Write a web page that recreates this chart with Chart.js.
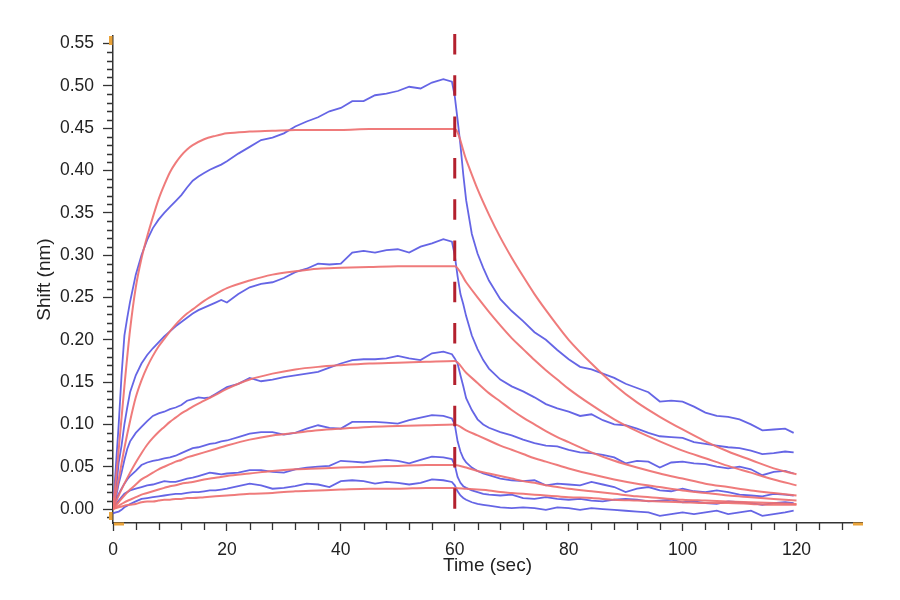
<!DOCTYPE html>
<html><head><meta charset="utf-8">
<script src="https://cdn.jsdelivr.net/npm/chart.js@4.4.0/dist/chart.umd.min.js"></script>
<style>html,body{margin:0;padding:0;background:#fff;}#wrap{width:900px;height:600px;position:relative;}</style>
</head><body><div id="wrap"><canvas id="c"></canvas></div>
<script>
// ---- data ----
const blueTime = [0,0.5,1,1.5,2,2.5,3,4,5,6,7,8,9,10,11,12,13,14,15,16,17,18,19,20,22,24,26,28,30,32,34,36,38,40,42,44,46,48,50,52,54,56,58,59.5,60,60.5,61,61.5,62,63,64,65,66,68,70,72,74,76,78,80,82,84,86,88,90,92,94,96,98,100,102,104,106,108,110,112,114,116,118,119.5];

const measured1 = [0,0.05,0.10,0.158,0.205,0.226,0.245,0.277,0.300,0.318,0.332,0.342,0.350,0.357,0.364,0.371,0.380,0.388,0.393,0.397,0.401,0.404,0.407,0.411,0.420,0.428,0.436,0.439,0.444,0.452,0.458,0.463,0.470,0.474,0.482,0.482,0.489,0.491,0.494,0.499,0.497,0.504,0.508,0.505,0.488,0.460,0.430,0.395,0.365,0.325,0.302,0.285,0.270,0.248,0.234,0.222,0.209,0.200,0.188,0.177,0.168,0.165,0.160,0.155,0.148,0.143,0.138,0.127,0.128,0.127,0.121,0.114,0.110,0.109,0.106,0.100,0.093,0.094,0.095,0.090];
const measured2 = [0,0.020,0.055,0.075,0.100,0.120,0.138,0.158,0.172,0.182,0.190,0.197,0.204,0.210,0.216,0.221,0.226,0.231,0.235,0.238,0.241,0.244,0.247,0.244,0.254,0.262,0.266,0.268,0.273,0.280,0.284,0.290,0.289,0.290,0.303,0.305,0.303,0.306,0.307,0.303,0.310,0.314,0.319,0.316,0.300,0.275,0.254,0.242,0.228,0.205,0.189,0.176,0.166,0.153,0.145,0.139,0.132,0.124,0.119,0.115,0.110,0.112,0.105,0.100,0.099,0.095,0.090,0.086,0.085,0.084,0.079,0.077,0.075,0.073,0.072,0.069,0.065,0.066,0.068,0.067];
const measured3 = [0,0.013,0.030,0.043,0.058,0.071,0.080,0.090,0.097,0.104,0.110,0.113,0.115,0.118,0.120,0.123,0.128,0.130,0.132,0.131,0.132,0.136,0.140,0.144,0.148,0.155,0.151,0.153,0.156,0.158,0.160,0.162,0.167,0.172,0.176,0.177,0.177,0.178,0.181,0.178,0.176,0.184,0.186,0.183,0.178,0.172,0.158,0.145,0.131,0.117,0.106,0.100,0.096,0.091,0.087,0.082,0.078,0.075,0.074,0.070,0.067,0.066,0.064,0.061,0.054,0.057,0.056,0.049,0.055,0.056,0.054,0.053,0.050,0.048,0.050,0.047,0.040,0.044,0.045,0.042];
const measured4 = [0,0.010,0.018,0.024,0.030,0.035,0.039,0.045,0.052,0.055,0.057,0.058,0.060,0.061,0.063,0.066,0.069,0.072,0.073,0.075,0.077,0.078,0.080,0.081,0.085,0.089,0.091,0.091,0.088,0.090,0.095,0.099,0.096,0.095,0.103,0.103,0.103,0.102,0.101,0.105,0.108,0.111,0.110,0.107,0.100,0.080,0.068,0.060,0.055,0.049,0.045,0.042,0.040,0.036,0.034,0.033,0.034,0.028,0.030,0.029,0.028,0.032,0.029,0.026,0.020,0.024,0.026,0.022,0.021,0.024,0.021,0.020,0.022,0.020,0.017,0.016,0.015,0.018,0.017,0.016];
const measured5 = [0,0.006,0.010,0.014,0.018,0.020,0.022,0.024,0.026,0.028,0.029,0.031,0.033,0.032,0.032,0.034,0.036,0.037,0.039,0.041,0.043,0.042,0.041,0.042,0.043,0.046,0.046,0.044,0.043,0.047,0.049,0.050,0.051,0.057,0.056,0.055,0.057,0.058,0.057,0.054,0.058,0.062,0.061,0.059,0.052,0.038,0.031,0.027,0.025,0.022,0.020,0.018,0.017,0.016,0.017,0.013,0.012,0.014,0.012,0.011,0.012,0.010,0.009,0.011,0.012,0.011,0.009,0.010,0.011,0.008,0.009,0.007,0.006,0.009,0.008,0.007,0.005,0.007,0.008,0.007];
const measured6 = [-0.005,-0.004,-0.003,-0.001,0.002,0.004,0.006,0.009,0.012,0.013,0.014,0.015,0.016,0.017,0.018,0.018,0.019,0.020,0.020,0.021,0.022,0.022,0.023,0.024,0.027,0.030,0.028,0.024,0.025,0.027,0.030,0.029,0.026,0.033,0.034,0.033,0.030,0.032,0.031,0.029,0.031,0.035,0.034,0.032,0.028,0.021,0.016,0.013,0.011,0.008,0.006,0.005,0.004,0.002,0.001,0.002,0.001,-0.001,0.002,0.001,-0.001,0.001,0.000,-0.001,-0.002,-0.003,-0.004,-0.008,-0.006,-0.004,-0.006,-0.004,-0.002,-0.006,-0.004,-0.002,-0.008,-0.006,-0.004,-0.002];

const fitTime = [0,1,2,3,4,5,6,7,8,9,10,11,12,13,14,16,18,20,24,28,32,36,40,45,50,55,60,62,64,66,68,70,72,74,76,78,80,84,88,92,96,100,104,108,112,116,120];

const fit1 = [0,0.070,0.145,0.212,0.262,0.296,0.322,0.345,0.366,0.383,0.398,0.409,0.418,0.425,0.430,0.437,0.441,0.444,0.446,0.447,0.448,0.448,0.448,0.449,0.449,0.449,0.449,0.413,0.378,0.348,0.321,0.297,0.275,0.254,0.235,0.217,0.200,0.172,0.147,0.126,0.109,0.094,0.080,0.068,0.058,0.048,0.041];
const fit2 = [0,0.035,0.072,0.104,0.132,0.152,0.168,0.181,0.192,0.201,0.210,0.218,0.225,0.231,0.236,0.246,0.254,0.261,0.270,0.277,0.281,0.284,0.285,0.286,0.287,0.287,0.287,0.268,0.250,0.233,0.217,0.202,0.189,0.176,0.164,0.153,0.142,0.123,0.106,0.092,0.080,0.069,0.060,0.051,0.043,0.035,0.028];
const fit3 = [0,0.016,0.030,0.043,0.055,0.066,0.076,0.084,0.091,0.097,0.103,0.108,0.113,0.117,0.121,0.128,0.135,0.142,0.153,0.160,0.165,0.168,0.170,0.172,0.173,0.174,0.175,0.161,0.149,0.137,0.127,0.117,0.108,0.100,0.092,0.085,0.079,0.067,0.057,0.049,0.042,0.036,0.030,0.026,0.022,0.019,0.016];
const fit4 = [0,0.008,0.016,0.023,0.029,0.035,0.039,0.043,0.047,0.050,0.053,0.056,0.058,0.061,0.063,0.067,0.071,0.075,0.082,0.087,0.090,0.093,0.095,0.097,0.098,0.099,0.100,0.093,0.087,0.081,0.075,0.070,0.065,0.060,0.056,0.052,0.048,0.041,0.035,0.030,0.026,0.022,0.019,0.016,0.014,0.012,0.010];
const fit5 = [0,0.004,0.008,0.011,0.014,0.017,0.019,0.021,0.023,0.025,0.027,0.028,0.030,0.031,0.032,0.035,0.037,0.039,0.042,0.045,0.047,0.048,0.049,0.050,0.051,0.052,0.052,0.049,0.045,0.042,0.039,0.036,0.033,0.031,0.028,0.026,0.024,0.021,0.018,0.015,0.013,0.011,0.010,0.009,0.008,0.007,0.006];
const fit6 = [0,0.002,0.004,0.005,0.006,0.008,0.009,0.009,0.010,0.011,0.011,0.012,0.012,0.013,0.013,0.014,0.015,0.016,0.018,0.019,0.021,0.022,0.023,0.024,0.024,0.025,0.025,0.024,0.023,0.022,0.020,0.019,0.018,0.017,0.016,0.015,0.014,0.013,0.011,0.010,0.009,0.008,0.007,0.007,0.006,0.005,0.005];

const xTickValues = [0,20,40,60,80,100,120];
const yTickValues = [0,0.05,0.10,0.15,0.20,0.25,0.30,0.35,0.40,0.45,0.50,0.55];
const injectionTime = [60];
const xTitle = 'Time (sec)';
const yTitle = 'Shift (nm)';

// ---- styling ----
const FONT = "'Liberation Sans', Arial, Helvetica, sans-serif";
const BLUE = 'rgba(80,80,225,0.88)';
const RED = 'rgba(238,112,112,0.92)';
const AXIS = '#333333';
const ORANGE = '#e9a33a';

const measured = [measured1, measured2, measured3, measured4, measured5, measured6];
const fits = [fit1, fit2, fit3, fit4, fit5, fit6];

const datasets = [];
fits.forEach((f, k) => datasets.push({
  label: 'fit ' + (k + 1),
  data: fitTime.map((t, i) => ({x: t, y: f[i]})),
  borderColor: RED, borderWidth: 2, pointRadius: 0,
  cubicInterpolationMode: 'monotone', order: 0
}));
measured.forEach((m, k) => datasets.push({
  label: 'measured ' + (k + 1),
  data: blueTime.map((t, i) => ({x: t, y: m[i]})),
  borderColor: BLUE, borderWidth: 1.8, pointRadius: 0,
  tension: 0, order: 1
}));

const extras = {
  id: 'extras',
  afterDatasetsDraw(chart) {
    const {ctx, chartArea: a, scales: {x, y}} = chart;
    ctx.save();
    // dashed injection line
    const xp = x.getPixelForValue(injectionTime[0]);
    ctx.strokeStyle = '#b3202e';
    ctx.lineWidth = 3;
    ctx.setLineDash([20.5, 20.8]);
    ctx.beginPath();
    ctx.moveTo(xp, a.top - 2);
    ctx.lineTo(xp, y.getPixelForValue(0));
    ctx.stroke();
    ctx.setLineDash([]);
    ctx.restore();
  },
  afterDraw(chart) {
    const {ctx, chartArea: a, scales: {x, y}} = chart;
    ctx.save();
    ctx.strokeStyle = AXIS;
    ctx.lineWidth = 1.3;
    ctx.beginPath();
    // y minor ticks
    for (let i = -1; i <= 55; i++) {
      if (i >= 0 && i % 5 === 0) continue;
      const yp = Math.round(y.getPixelForValue(i / 100)) + 0.5;
      ctx.moveTo(a.left - 6, yp); ctx.lineTo(a.left, yp);
    }
    // x minor ticks
    for (let t = 4; t <= 128; t += 4) {
      if (t % 20 === 0) continue;
      const xp = Math.round(x.getPixelForValue(t)) + 0.5;
      ctx.moveTo(xp, a.bottom); ctx.lineTo(xp, a.bottom + 7);
    }
    ctx.stroke();
    // orange axis handles
    ctx.fillStyle = ORANGE;
    ctx.fillRect(a.left - 4, a.top, 3.5, 9);
    ctx.fillRect(a.left - 4, a.bottom - 11, 3.5, 8);
    ctx.fillRect(a.left + 1, a.bottom - 0.5, 10, 3);
    ctx.fillRect(a.right - 9, a.bottom - 0.5, 10, 3);
    ctx.restore();
  }
};

new Chart(document.getElementById('c'), {
  type: 'line',
  data: {datasets},
  plugins: [extras],
  options: {
    responsive: true, maintainAspectRatio: false, animation: false,
    layout: {padding: {left: 0, top: 36, right: 38, bottom: 0}},
    plugins: {legend: {display: false}, tooltip: {enabled: false}},
    elements: {line: {fill: false}},
    scales: {
      x: {
        type: 'linear', min: 0, max: 131.5,
        afterBuildTicks: s => { s.ticks = xTickValues.map(v => ({value: v})); },
        afterFit: s => { s.height = 77; },
        ticks: {color: '#222', font: {family: FONT, size: 17.5}, padding: 9, maxRotation: 0,
                callback: v => String(v)},
        grid: {drawOnChartArea: false, drawTicks: true, tickLength: 8, tickColor: AXIS, tickWidth: 1.3},
        border: {display: true, color: AXIS, width: 1.5},
        title: {display: true, text: xTitle, color: '#222', font: {family: FONT, size: 19},
                padding: {top: 0, bottom: 23}}
      },
      y: {
        type: 'linear', min: -0.0165, max: 0.559,
        afterBuildTicks: s => { s.ticks = yTickValues.map(v => ({value: v})); },
        afterFit: s => { s.width = 113; },
        ticks: {color: '#222', font: {family: FONT, size: 17.5}, padding: 9,
                callback: v => Number(v).toFixed(2)},
        grid: {drawOnChartArea: false, drawTicks: true, tickLength: 10, tickColor: AXIS, tickWidth: 1.3},
        border: {display: true, color: AXIS, width: 1.5},
        title: {display: true, text: yTitle, color: '#222', font: {family: FONT, size: 19},
                padding: {top: 33, bottom: 0}}
      }
    }
  }
});
</script>
</body></html>
